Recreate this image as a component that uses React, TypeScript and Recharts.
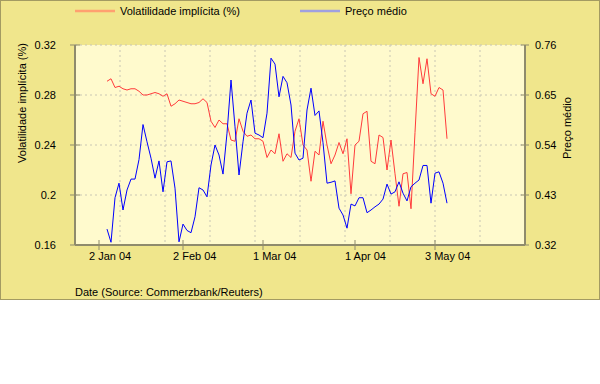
import React from "react";
import {
  CartesianGrid,
  Line,
  LineChart,
  XAxis,
  YAxis,
} from "recharts";

// trading-day index, 0 = 2 Jan 04
const TRADING_DAY = [
  2, 3, 4, 5, 6, 7, 8, 9, 10, 11,
  12, 13, 14, 15, 16, 17, 18, 19, 20, 21,
  22, 23, 24, 25, 26, 27, 28, 29, 30, 31,
  32, 33, 34, 35, 36, 37, 38, 39, 40, 41,
  42, 43, 44, 45, 46, 47, 48, 49, 50, 51,
  52, 53, 54, 55, 56, 57, 58, 59, 60, 61,
  62, 63, 64, 65, 66, 67, 68, 69, 70, 71,
  72, 73, 74, 75, 76, 77, 78, 79, 80, 81,
  82, 83, 84, 85, 86, 87,
];

const VOLATILITY = [
  0.291, 0.293, 0.286, 0.287, 0.285, 0.284, 0.285, 0.285, 0.283, 0.28,
  0.28, 0.281, 0.282, 0.281, 0.279, 0.281, 0.271, 0.273, 0.276, 0.275,
  0.274, 0.273, 0.273, 0.274, 0.277, 0.274, 0.259, 0.254, 0.26, 0.257,
  0.257, 0.244, 0.243, 0.261, 0.251, 0.247, 0.248, 0.245, 0.245, 0.243,
  0.23, 0.236, 0.233, 0.249, 0.227, 0.233, 0.23, 0.251, 0.261, 0.24,
  0.236, 0.211, 0.235, 0.232, 0.259, 0.24, 0.225, 0.232, 0.242, 0.233,
  0.245, 0.201, 0.24, 0.243, 0.265, 0.267, 0.227, 0.225, 0.248, 0.246,
  0.22, 0.244, 0.217, 0.191, 0.217, 0.218, 0.189, 0.25, 0.31, 0.289,
  0.309, 0.281, 0.279, 0.286, 0.284, 0.245,
];

const PRICE = [
  0.355, 0.326, 0.424, 0.456, 0.397, 0.441, 0.465, 0.465, 0.508, 0.585,
  0.547, 0.511, 0.467, 0.505, 0.437, 0.503, 0.505, 0.445, 0.327, 0.366,
  0.352, 0.347, 0.382, 0.446, 0.441, 0.426, 0.496, 0.54, 0.518, 0.476,
  0.566, 0.683, 0.58, 0.474, 0.547, 0.61, 0.639, 0.566, 0.562, 0.556,
  0.61, 0.731, 0.718, 0.646, 0.691, 0.677, 0.628, 0.522, 0.507, 0.511,
  0.617, 0.665, 0.605, 0.615, 0.545, 0.456, 0.458, 0.461, 0.401, 0.386,
  0.357, 0.41, 0.406, 0.424, 0.424, 0.391, 0.397, 0.404, 0.41, 0.421,
  0.454, 0.432, 0.437, 0.459, 0.434, 0.417, 0.448, 0.456, 0.463, 0.495,
  0.495, 0.412, 0.478, 0.481, 0.456, 0.412,
];

const X_TICKS = [0, 21, 41, 64, 84];
const X_TICK_LABELS = ["2 Jan 04", "2 Feb 04", "1 Mar 04", "1 Apr 04", "3 May 04"];
const VOL_TICKS = [0.16, 0.2, 0.24, 0.28, 0.32];
const PRICE_TICKS = [0.32, 0.43, 0.54, 0.65, 0.76];
const GRID_DIVISIONS = 10;

const FONT = '"Liberation Sans", Arial, sans-serif';
const AXIS = "#8f8b6c";
const RED = "#ff3b3b";
const BLUE = "#0000ff";

const data = TRADING_DAY.map((d, i) => ({
  day: d,
  vol: VOLATILITY[i],
  price: PRICE[i],
}));

// vertical grid splits the plot into equal parts, independent of the date ticks
const verticalGrid = ({ offset }: any) => {
  const xs: number[] = [];
  for (let k = 1; k < GRID_DIVISIONS; k++) {
    xs.push(offset.left + (offset.width * k) / GRID_DIVISIONS);
  }
  return xs;
};

const LeftTick = ({ x, y, payload }: any) => (
  <g>
    <line x1={x - 5} x2={x + 5} y1={y} y2={y} stroke={AXIS} />
    <text x={x - 19} y={y} dy="0.35em" textAnchor="end" fontSize={11} fill="#000">
      {String(payload.value)}
    </text>
  </g>
);

const RightTick = ({ x, y, payload }: any) => (
  <g>
    <line x1={x - 4} x2={x + 4} y1={y} y2={y} stroke={AXIS} />
    <text x={x + 10} y={y} dy="0.35em" textAnchor="start" fontSize={11} fill="#000">
      {String(payload.value)}
    </text>
  </g>
);

const BottomTick = ({ x, y, payload }: any) => {
  const idx = X_TICKS.indexOf(payload.value);
  return (
    <g>
      <line x1={x} x2={x} y1={y - 5} y2={y + 5} stroke={AXIS} />
      <text x={x - 10} y={y + 15} textAnchor="start" fontSize={11} fill="#000">
        {X_TICK_LABELS[idx]}
      </text>
    </g>
  );
};

function LegendItem({ color, label }: { color: string; label: string }) {
  return (
    <div style={{ display: "flex", alignItems: "center" }}>
      <svg width={40} height={4} style={{ marginRight: 5 }}>
        <line x1={0} x2={40} y1={2} y2={2} stroke={color} strokeWidth={2.5} />
      </svg>
      <span>{label}</span>
    </div>
  );
}

export default function App() {
  return (
    <div
      style={{
        position: "absolute",
        left: 0,
        top: 0,
        width: 600,
        height: 300,
        background: "#f0e68c",
        boxShadow: "inset 0 0 0 1px #a39b62",
        fontFamily: FONT,
        fontSize: 11,
        color: "#000",
      }}
    >
      <div style={{ position: "absolute", left: 75, top: 5, display: "flex" }}>
        <div style={{ width: 225 }}>
          <LegendItem color="#ffa070" label="Volatilidade implícita (%)" />
        </div>
        <LegendItem color="#a0a0e0" label="Preço médio" />
      </div>
      <LineChart
        width={600}
        height={300}
        data={data}
        margin={{ top: 45, right: 0, bottom: 0, left: 0 }}
        style={{ position: "absolute", left: 0, top: 0 }}
      >
        <CartesianGrid
          yAxisId="vol"
          fill="#fffacd"
          fillOpacity={1}
          stroke="#c9c6b4"
          strokeDasharray="2 3"
          verticalCoordinatesGenerator={verticalGrid}
        />
        <XAxis
          dataKey="day"
          type="number"
          domain={[-6, 106.5]}
          allowDataOverflow
          ticks={X_TICKS}
          height={55}
          tickSize={0}
          tickMargin={0}
          tickLine={false}
          tick={<BottomTick />}
          axisLine={{ stroke: AXIS, strokeWidth: 2 }}
          label={{
            content: ({ viewBox }: any) => (
              <text x={viewBox.x} y={viewBox.y + viewBox.height - 4} fontSize={11} fill="#000">
                Date (Source: Commerzbank/Reuters)
              </text>
            ),
          }}
        />
        <YAxis
          yAxisId="vol"
          orientation="left"
          domain={[0.16, 0.32]}
          ticks={VOL_TICKS}
          width={75}
          tickSize={0}
          tickMargin={0}
          tickLine={false}
          tick={<LeftTick />}
          axisLine={{ stroke: AXIS, strokeWidth: 2 }}
          label={{
            content: ({ viewBox }: any) => {
              const cx = viewBox.x + 22;
              const cy = viewBox.y + 58;
              return (
                <text
                  x={cx}
                  y={cy}
                  transform={`rotate(-90, ${cx}, ${cy})`}
                  textAnchor="middle"
                  dy="0.35em"
                  fontSize={11}
                  fill="#000"
                >
                  Volatilidade implícita (%)
                </text>
              );
            },
          }}
        />
        <YAxis
          yAxisId="price"
          orientation="right"
          domain={[0.32, 0.76]}
          ticks={PRICE_TICKS}
          width={75}
          tickSize={0}
          tickMargin={0}
          tickLine={false}
          tick={<RightTick />}
          axisLine={{ stroke: AXIS, strokeWidth: 2 }}
          label={{
            content: ({ viewBox }: any) => {
              const cx = viewBox.x + 42;
              const cy = viewBox.y + 83;
              return (
                <text
                  x={cx}
                  y={cy}
                  transform={`rotate(-90, ${cx}, ${cy})`}
                  textAnchor="middle"
                  dy="0.35em"
                  fontSize={11}
                  fill="#000"
                >
                  Preço médio
                </text>
              );
            },
          }}
        />
        <Line
          yAxisId="vol"
          dataKey="vol"
          type="linear"
          stroke={RED}
          strokeWidth={1}
          dot={false}
          isAnimationActive={false}
        />
        <Line
          yAxisId="price"
          dataKey="price"
          type="linear"
          stroke={BLUE}
          strokeWidth={1}
          dot={false}
          isAnimationActive={false}
        />
      </LineChart>
    </div>
  );
}
